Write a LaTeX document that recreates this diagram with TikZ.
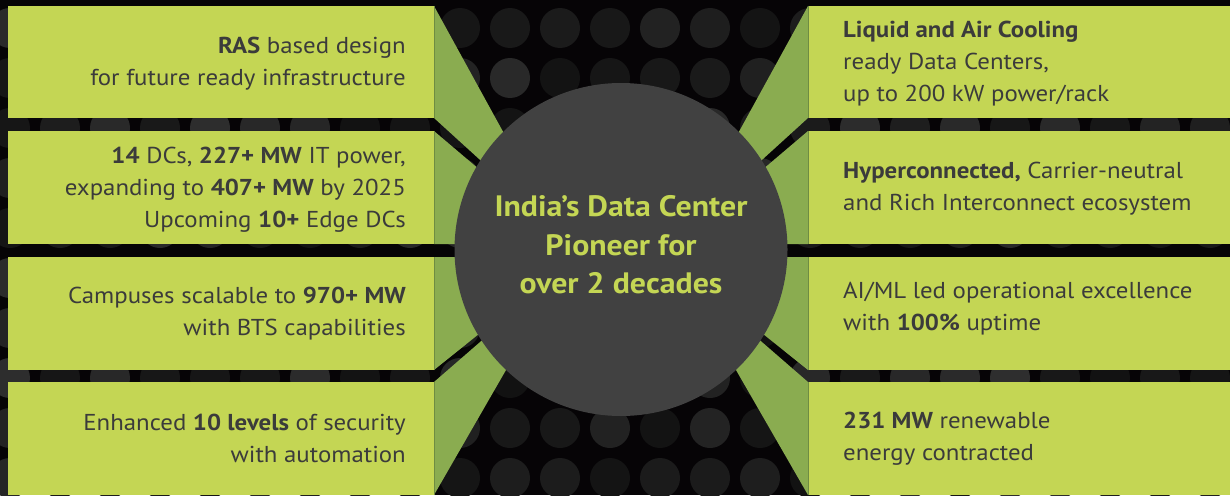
\documentclass[tikz,border=0pt]{standalone}
\usepackage{fontspec}
\setmainfont{PT Sans}[FakeStretch=1.08]
\definecolor{bgc}{HTML}{060406}
\definecolor{boxc}{HTML}{C4D654}
\definecolor{wedgec}{HTML}{8AAC50}
\definecolor{edgec}{HTML}{6E8C42}
\definecolor{circc}{HTML}{414141}
\definecolor{txtc}{HTML}{3B3B3B}
\tikzset{
  boxfill/.style={fill=boxc},
  wedgefill/.style={fill=wedgec},
  boxedge/.style={draw=edgec, line width=0.9pt},
  ltext/.style={text=txtc, font=\fontsize{23}{32}\selectfont, align=right, inner sep=0pt, anchor=east},
  rtext/.style={text=txtc, font=\fontsize{23}{32}\selectfont, align=left, inner sep=0pt, anchor=west},
  hubtext/.style={text=boxc, font=\bfseries\fontsize{29.5}{38.5}\selectfont, align=center, inner sep=0pt}
}
\begin{document}
\begin{tikzpicture}[x=1pt,y=-1pt]
\fill[bgc] (0,0) rectangle (1230,495);
\useasboundingbox (0,0) rectangle (1230,495);
% dotted background
\pgfmathsetseed{7}
\foreach \i in {0,...,24}{
  \foreach \j in {0,...,9}{
    \pgfmathsetmacro\g{0.07+0.11*rnd}
    \definecolor{dotc}{gray}{\g}
    \fill[dotc] (10+50*\i,28+50*\j) circle[radius=20];
  }
}
% wedges left
\fill[wedgefill] (434,6) -- (540,199) -- (540,214.5) -- (434,118) -- cycle;
\fill[wedgefill] (434,131) -- (540,221) -- (540,244) -- (434,244) -- cycle;
\fill[wedgefill] (434,257) -- (540,257) -- (540,285) -- (434,370) -- cycle;
\fill[wedgefill] (434,382) -- (540,290) -- (540,311) -- (434,495) -- cycle;
% wedges right
\fill[wedgefill] (808,6) -- (702,199) -- (702,214.5) -- (808,118) -- cycle;
\fill[wedgefill] (808,131) -- (702,221) -- (702,244) -- (808,244) -- cycle;
\fill[wedgefill] (808,257) -- (702,257) -- (702,285) -- (808,370) -- cycle;
\fill[wedgefill] (808,382) -- (702,290) -- (702,311) -- (808,495) -- cycle;
% boxes
\fill[boxfill] (8,6) rectangle (434,118);
\fill[boxfill] (8,131) rectangle (434,244);
\fill[boxfill] (8,257) rectangle (434,370);
\fill[boxfill] (8,382) rectangle (434,495);
\fill[boxfill] (808,6) rectangle (1230,118);
\fill[boxfill] (808,131) rectangle (1230,244);
\fill[boxfill] (808,257) rectangle (1230,370);
\fill[boxfill] (808,382) rectangle (1230,495);
\foreach \a/\b in {6/118,131/244,257/370,382/495}{
  \draw[boxedge] (434,\a) -- (434,\b);
  \draw[boxedge] (808,\a) -- (808,\b);
}
% hub
\node[circle, fill=circc, minimum size=333pt, inner sep=0pt] (hub) at (621,249.5) {};
\node[hubtext] (hubt) at (621,245) {India’s Data Center\\Pioneer for\\over 2 decades};
% left texts
\node[ltext] (l1) at (406,63.5) {\textbf{RAS} based design\\for future ready infrastructure};
\node[ltext] (l2) at (406,190) {\textbf{14} DCs, \textbf{227+ MW} IT power,\\expanding to \textbf{407+ MW} by 2025\\Upcoming \textbf{10+} Edge DCs};
\node[ltext] (l3) at (406,313.5) {Campuses scalable to \textbf{970+ MW}\\with BTS capabilities};
\node[ltext] (l4) at (406,438.5) {Enhanced \textbf{10 levels} of security\\with automation};
% right texts
\node[rtext] (r1) at (843,63.5) {\textbf{Liquid and Air Cooling}\\ready Data Centers,\\up to 200 kW power/rack};
\node[rtext] (r2) at (843,189) {\textbf{Hyperconnected,} Carrier-neutral\\and Rich Interconnect ecosystem};
\node[rtext] (r3) at (843,308.5) {AI/ML led operational excellence\\with \textbf{100\%} uptime};
\node[rtext] (r4) at (843,438.5) {\textbf{231 MW} renewable\\energy contracted};
\end{tikzpicture}
\end{document}
